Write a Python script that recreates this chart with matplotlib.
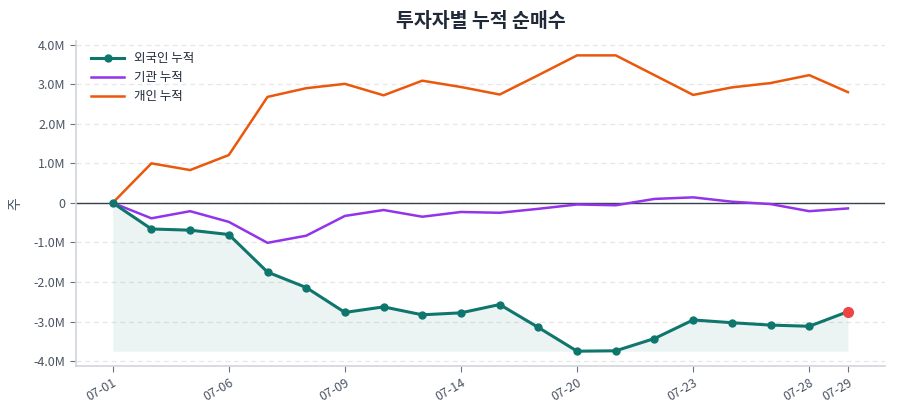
import matplotlib
matplotlib.use("Agg")
import matplotlib.pyplot as plt
from matplotlib.ticker import FuncFormatter, MultipleLocator

plt.rcParams['font.family'] = ['Noto Sans CJK KR', 'DejaVu Sans']

dates = ["07-01", "07-02", "07-03", "07-06", "07-07", "07-08", "07-09", "07-10",
         "07-13", "07-14", "07-15", "07-16", "07-20", "07-21", "07-22", "07-23",
         "07-24", "07-27", "07-28", "07-29"]
tick_labels = ["07-01", "07-06", "07-09", "07-14", "07-20", "07-23", "07-28", "07-29"]

foreign = [0, -0.66, -0.69, -0.80, -1.75, -2.14, -2.77, -2.63, -2.83, -2.78,
           -2.57, -3.15, -3.75, -3.74, -3.43, -2.96, -3.03, -3.09, -3.12, -2.75]
institution = [0, -0.39, -0.21, -0.48, -1.01, -0.83, -0.33, -0.18, -0.35, -0.23,
               -0.25, -0.15, -0.04, -0.06, 0.10, 0.14, 0.03, -0.03, -0.21, -0.14]
individual = [0, 1.00, 0.83, 1.21, 2.68, 2.90, 3.01, 2.72, 3.09, 2.93,
              2.74, 3.23, 3.73, 3.73, 3.23, 2.73, 2.92, 3.03, 3.23, 2.80]

foreign = [v * 1e6 for v in foreign]
institution = [v * 1e6 for v in institution]
individual = [v * 1e6 for v in individual]

x = list(range(len(dates)))

fig = plt.figure(figsize=(9, 4.2), dpi=100)
ax = fig.add_axes([0.0844, 0.129, 0.8986, 0.774])

ax.yaxis.grid(True, linestyle=(0, (4, 3)), color='#e5e7eb', linewidth=0.9)
ax.set_axisbelow(True)
ax.axhline(0, color='#374151', linewidth=1.0, zorder=2)

fmin = min(foreign)
ax.fill_between(x, foreign, fmin, color='#0f766e', alpha=0.08, linewidth=0, zorder=1)
ax.plot(x, foreign, color='#0f766e', linewidth=2.2, marker='o', markersize=5,
        label='외국인 누적', zorder=4)
ax.plot(x, institution, color='#9333ea', linewidth=1.8, label='기관 누적', zorder=3)
ax.plot(x, individual, color='#ea580c', linewidth=1.8, label='개인 누적', zorder=3)
ax.plot([x[-1]], [foreign[-1]], marker='o', markersize=7, color='#ef4444',
        linestyle='none', zorder=5)

ax.set_xlim(-0.95, len(x) - 1 + 0.95)
ax.set_ylim(-4.12e6, 4.1e6)
ax.yaxis.set_major_locator(MultipleLocator(1e6))

def fmt(v, pos):
    if abs(v) < 1:
        return "0"
    return f"{v/1e6:.1f}M"
ax.yaxis.set_major_formatter(FuncFormatter(fmt))

tick_pos = [dates.index(t) for t in tick_labels]
ax.set_xticks(tick_pos)
ax.set_xticklabels(tick_labels, rotation=30, ha='right', rotation_mode='anchor')

for s in ['top', 'right']:
    ax.spines[s].set_visible(False)
for s in ['left', 'bottom']:
    ax.spines[s].set_color('#d1d5db')
    ax.spines[s].set_linewidth(1.2)
ax.tick_params(axis='both', colors='#6b7280', labelcolor='#4b5563', labelsize=9, length=4)

ax.set_ylabel('주', color='#4b5563', fontsize=10, labelpad=8)
ax.set_title('투자자별 누적 순매수', fontsize=14, fontweight='bold', color='#1f2937', pad=10)

leg = ax.legend(loc='upper left', frameon=False, fontsize=9, handlelength=2.6,
                bbox_to_anchor=(0.005, 1.0))
for t in leg.get_texts():
    t.set_color('#1f2937')

fig.savefig('out.png', dpi=100)
